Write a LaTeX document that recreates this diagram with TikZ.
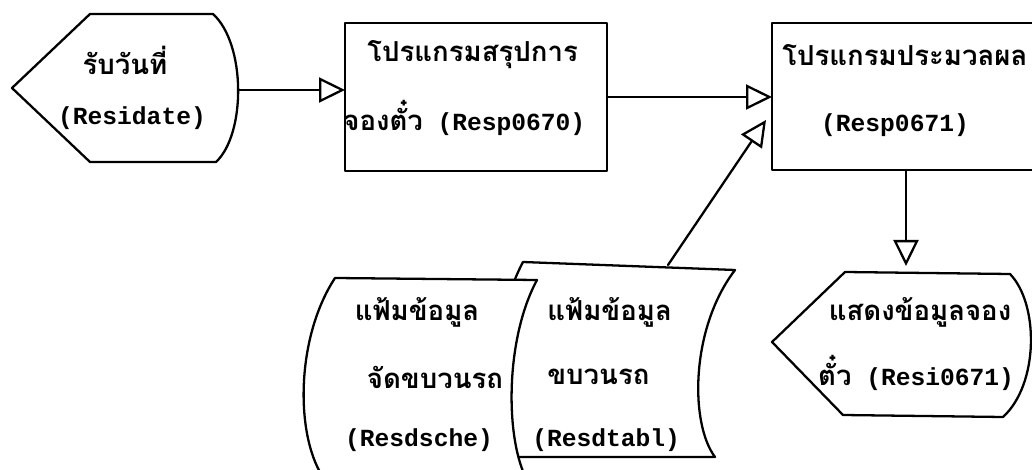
\documentclass[tikz,border=0pt]{standalone}
\usepackage{fontspec}
\setmainfont{Liberation Mono}
\newfontfamily\thaifont[Script=Thai,Scale=1.12]{Loma}
\usepackage{tkz-euclide}
\usetikzlibrary{calc,positioning,arrows.meta}

\tikzset{
  txt/.style={font=\fontsize{14pt}{16pt}\selectfont\bfseries,inner sep=0pt},
  shapeline/.style={line width=1.3pt,line join=round},
  flow/.style={shapeline,-{Triangle[open,length=0.52cm,width=0.5cm,line width=1.3pt]}}
}

\begin{document}
\begin{tikzpicture}
\tkzInit[xmin=0,xmax=20.64,ymin=0,ymax=9.38]
\useasboundingbox (0,0) rectangle (20.64,9.38);
\tkzDefPoint(0.24,7.62){D1}
\tkzDefPoint(1.80,9.10){D2}
\tkzDefPoint(4.26,9.10){D3}
\tkzDefPoint(4.32,6.14){D4}
\tkzDefPoint(1.80,6.14){D5}
\tkzDefPoint(4.76,7.58){DE}
\tkzDefPoint(6.90,8.92){B1}
\tkzDefPoint(12.14,8.92){B2}
\tkzDefPoint(12.14,5.96){B3}
\tkzDefPoint(6.90,5.96){B4}
\tkzDefPoint(6.90,7.58){BW}
\tkzDefPoint(12.14,7.44){BE}
\tkzDefPoint(15.44,8.92){C1}
\tkzDefPoint(21.50,8.92){C2}
\tkzDefPoint(21.50,5.98){C3}
\tkzDefPoint(15.44,5.98){C4}
\tkzDefPoint(15.44,7.44){CW}
\tkzDefPoint(15.32,6.98){CT}
\tkzDefPoint(18.12,5.98){CS}
\tkzDefPoint(18.12,4.06){SN}
\tkzDefPoint(15.44,2.54){S1}
\tkzDefPoint(16.90,3.94){S2}
\tkzDefPoint(20.20,3.90){S3}
\tkzDefPoint(20.06,1.04){S4}
\tkzDefPoint(16.86,1.08){S5}
\tkzDefPoint(13.36,4.08){TN}
\draw[shapeline] (D1) -- (D2) -- (D3) .. controls (4.92,8.5) and (4.92,6.7) .. (D4) -- (D5) -- cycle;
\tkzDrawPolygon[shapeline](B1,B2,B3,B4)
\tkzDrawPolygon[shapeline](C1,C2,C3,C4)
\draw[shapeline] (S1) -- (S2) -- (S3) .. controls (20.78,3.3) and (20.78,1.7) .. (S4) -- (S5) -- cycle;
\draw[shapeline,fill=white] (10.46,4.14) -- (14.70,3.98) .. controls (13.8,2.8) and (13.8,0.9) .. (14.30,0.24)
  -- (10.20,0.24) .. controls (9.8,1.0) and (9.8,2.9) .. (10.46,4.14) -- cycle;
\draw[shapeline,fill=white] (6.70,3.82) -- (10.74,3.78) .. controls (10.1,2.6) and (10.1,0.6) .. (10.54,-0.22)
  -- (6.50,-0.22) .. controls (5.9,0.6) and (5.9,2.6) .. (6.70,3.82) -- cycle;
\tkzDrawSegment[flow](DE,BW)
\tkzDrawSegment[flow](BE,CW)
\tkzDrawSegment[flow](TN,CT)
\tkzDrawSegment[flow](CS,SN)
\node[txt] (datet) at (2.50,8.18) {\thaifont รับวันที่};
\node[txt] (dated) at (2.64,7.02) {(Residate)};
\node[txt,anchor=west] (sumt) at (7.34,8.28) {\thaifont โปรแกรมสรุปการ};
\node[txt,anchor=west] (sumd) at (6.86,7.02) {{\thaifont จองตั๋ว} (Resp0670)};
\node[txt,anchor=west] (proct) at (15.64,8.28) {\thaifont โปรแกรมประมวลผล};
\node[txt] (procd) at (17.90,6.88) {(Resp0671)};
\node[txt] (showt) at (18.40,3.14) {\thaifont แสดงข้อมูลจอง};
\node[txt] (showd) at (18.32,1.92) {{\thaifont ตั๋ว} (Resi0671)};
\node[txt] (scht) at (8.34,3.14) {\thaifont แฟ้มข้อมูล};
\node[txt] (schm) at (8.70,1.84) {\thaifont จัดขบวนรถ};
\node[txt] (schd) at (8.38,0.58) {(Resdsche)};
\node[txt,anchor=west] (tabt) at (10.94,3.14) {\thaifont แฟ้มข้อมูล};
\node[txt,anchor=west] (tabm) at (10.94,1.84) {\thaifont ขบวนรถ};
\node[txt,anchor=west] (tabd) at (10.64,0.58) {(Resdtabl)};
\end{tikzpicture}
\end{document}
